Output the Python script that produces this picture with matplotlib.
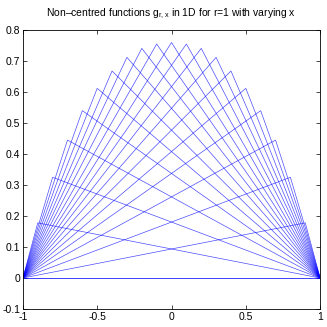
import matplotlib
matplotlib.use("Agg")
import matplotlib.pyplot as plt
import numpy as np

# peak positions and peak heights
peak_x = [-1.0, -0.9, -0.8, -0.7, -0.6, -0.5, -0.4, -0.3, -0.2, -0.1, 0.0,
          0.1, 0.2, 0.3, 0.4, 0.5, 0.6, 0.7, 0.8, 0.9, 1.0]
peak_h = [0.0, 0.178, 0.325, 0.445, 0.54, 0.612, 0.668, 0.712, 0.741, 0.755, 0.76,
          0.755, 0.741, 0.712, 0.668, 0.612, 0.54, 0.445, 0.325, 0.178, 0.0]

x_ticks = [-1, -0.5, 0, 0.5, 1]
y_ticks = [-0.1, 0, 0.1, 0.2, 0.3, 0.4, 0.5, 0.6, 0.7, 0.8]
title = "Non\u2013centred functions g$_{r,x}$ in 1D for r=1 with varying x"

plt.rcParams["font.family"] = ["Liberation Sans", "DejaVu Sans"]
plt.rcParams["axes.unicode_minus"] = False
plt.rcParams["mathtext.fontset"] = "custom"
plt.rcParams["mathtext.rm"] = "Liberation Sans"
plt.rcParams["mathtext.it"] = "Liberation Sans"

fig = plt.figure(figsize=(3.27, 3.27), dpi=100)
ax = fig.add_axes([0.070, 0.055, 0.909, 0.853])

for px, ph in zip(peak_x, peak_h):
    ax.plot([-1, px, 1], [0, ph, 0], color="#0000ff", lw=0.5, alpha=0.7)

ax.set_xlim(-1, 1)
ax.set_ylim(-0.1, 0.8)
ax.set_xticks(x_ticks)
ax.set_yticks(y_ticks)
ax.set_xticklabels(["-1", "-0.5", "0", "0.5", "1"])
ax.set_yticklabels(["-0.1", "0", "0.1", "0.2", "0.3", "0.4", "0.5", "0.6", "0.7", "0.8"])
ax.tick_params(direction="in", top=True, right=True, labelsize=7.5, length=3,
               width=0.5, pad=2)
for s in ax.spines.values():
    s.set_linewidth(0.6)
ax.set_title(title, fontsize=7.5, pad=10)

fig.savefig("out.png", dpi=100)
